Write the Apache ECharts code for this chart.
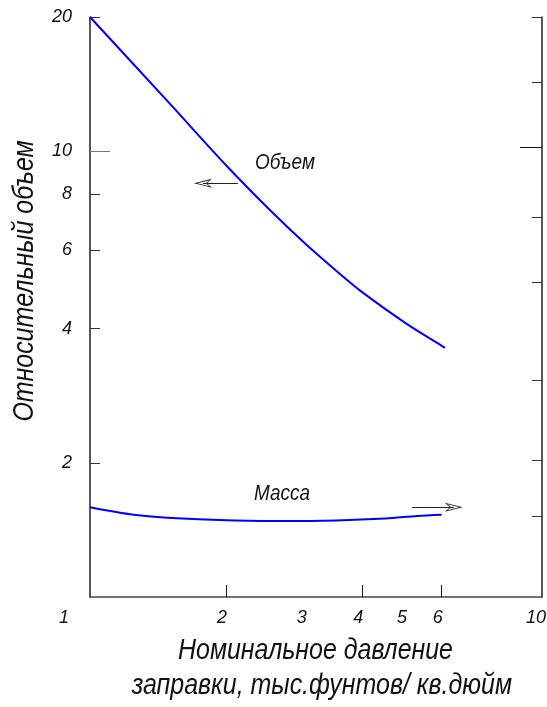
<!DOCTYPE html>
<html><head><meta charset="utf-8">
<script src="https://cdn.jsdelivr.net/npm/echarts@6/dist/echarts.min.js"></script>
<style>html,body{margin:0;padding:0;background:#fff}#chart{width:547px;height:707px}</style>
</head><body><div id="chart"></div>
<script>
// Relative volume and mass of the charge vs nominal fill pressure (log-log)
const pressureVolume = [1, 1.5, 2, 2.5, 3, 3.5, 4, 5, 6, 6.1];
const volume = [20, 12.8, 9.3, 7.38, 6.19, 5.40, 4.83, 4.11, 3.66, 3.62];
const pressureMass = [1, 1.25, 1.6, 2.1, 2.7, 3.5, 4.5, 5.3, 6];
const mass = [1.59, 1.53, 1.50, 1.485, 1.48, 1.485, 1.50, 1.52, 1.53];

const xLabelValues = [1, 2, 3, 4, 5, 6, 10];
const xTickValues = [2, 4, 6];
const leftLabelValues = [2, 4, 6, 8, 10, 20];
const leftShortTicks = [2, 4, 6, 8, 20];
const leftLongTick = [10];
const rightShortTicks = [1.52, 2.03, 3.06, 5.07, 7.1, 14.3, 20];
const rightLongTick = [10.2];

// annotation anchors (data coordinates)
const volumeNote = [2.70, 9.41];
const massNote = [2.66, 1.70];
const volumeArrow = [[2.125, 8.47], [1.778, 8.47]];
const massArrow = [[5.16, 1.59], [6.38, 1.59]];

const SANS = "'Liberation Sans', Arial, sans-serif";
const NARROW_SCALE = 0.86;   // condensed look for the captions
const BLUE = '#0000ff';
// open dart-shaped arrowhead, tip up
const arrowHead = 'path://M0 0 L5 18 L0 13 L-5 18 Z M0 3.5 L-3.3 15.4 L0 11.6 L3.3 15.4 Z';

function pairs(xs, ys) { return xs.map((x, i) => [x, ys[i]]); }

const chart = echarts.init(document.getElementById('chart'), null, { renderer: 'canvas' });

const yBase = { type: 'log', logBase: 10, min: 1, max: 20, splitLine: { show: false } };
const tickFont = { color: '#111', fontStyle: 'italic', fontSize: 18, fontFamily: SANS };

function caption(text, x, y, size, align, vAlign, rotation) {
  return {
    type: 'text', x: x, y: y, rotation: rotation || 0, scaleX: NARROW_SCALE, silent: true,
    style: { text: text, fill: '#111', font: 'italic ' + size + 'px ' + SANS, textAlign: align, textVerticalAlign: vAlign }
  };
}

chart.setOption({
  animation: false,
  backgroundColor: '#fff',
  grid: { left: 90, right: 5, top: 17, bottom: 110, containLabel: false, outerBoundsMode: 'none' },
  xAxis: {
    type: 'log', logBase: 10, min: 1, max: 10,
    axisLine: { onZero: false, lineStyle: { color: '#444', width: 1.5 } },
    axisTick: { inside: true, length: 12, customValues: xTickValues, lineStyle: { color: '#111', width: 1 } },
    axisLabel: Object.assign({}, tickFont, {
      customValues: xLabelValues, margin: 12, padding: [0, 8, 0, 0],
      formatter: v => v === 1 ? '{one|1}' : v === 10 ? '{ten|10}' : String(v),
      rich: {
        one: Object.assign({}, tickFont, { padding: [0, 44, 0, 0] }),
        ten: Object.assign({}, tickFont, { padding: [0, 4, 0, 0] })
      }
    }),
    splitLine: { show: false }
  },
  yAxis: [
    Object.assign({}, yBase, {
      position: 'left',
      axisLine: { onZero: false, lineStyle: { color: '#222', width: 1.5 } },
      axisTick: { inside: true, length: 10, customValues: leftShortTicks, lineStyle: { color: '#333', width: 1 } },
      axisLabel: Object.assign({}, tickFont, { customValues: leftLabelValues, margin: 18, padding: [5, 0, 0, 0] })
    }),
    Object.assign({}, yBase, {
      position: 'right',
      axisLine: { onZero: false, lineStyle: { color: '#222', width: 1.5 } },
      axisTick: { inside: true, length: 10, customValues: rightShortTicks, lineStyle: { color: '#333', width: 1 } },
      axisLabel: { show: false }
    }),
    Object.assign({}, yBase, {
      position: 'left',
      axisLine: { show: false },
      axisTick: { inside: true, length: 20, customValues: leftLongTick, lineStyle: { color: '#777', width: 1 } },
      axisLabel: { show: false }
    }),
    Object.assign({}, yBase, {
      position: 'right',
      axisLine: { show: false },
      axisTick: { inside: true, length: 22, customValues: rightLongTick, lineStyle: { color: '#111', width: 1 } },
      axisLabel: { show: false }
    })
  ],
  series: [
    {
      name: 'Объем', type: 'line', yAxisIndex: 0, showSymbol: false, smooth: 0.3,
      lineStyle: { color: BLUE, width: 2 },
      data: pairs(pressureVolume, volume),
      markLine: {
        silent: true, symbol: ['none', arrowHead], symbolSize: [9, 18],
        lineStyle: { color: '#222', width: 1, type: 'solid' }, label: { show: false },
        data: [[{ coord: volumeArrow[0] }, { coord: volumeArrow[1] }]]
      }
    },
    {
      name: 'Масса', type: 'line', yAxisIndex: 1, showSymbol: false, smooth: 0.3,
      lineStyle: { color: BLUE, width: 2 },
      data: pairs(pressureMass, mass),
      markLine: {
        silent: true, symbol: ['none', arrowHead], symbolSize: [9, 18],
        lineStyle: { color: '#222', width: 1, type: 'solid' }, label: { show: false },
        data: [[{ coord: massArrow[0] }, { coord: massArrow[1] }]]
      }
    }
  ]
});

// captions: axis titles and curve names (curve names anchored in data space)
const volPx = chart.convertToPixel({ xAxisIndex: 0, yAxisIndex: 0 }, volumeNote);
const massPx = chart.convertToPixel({ xAxisIndex: 0, yAxisIndex: 1 }, massNote);
chart.setOption({
  graphic: [
    caption('Относительный объем', 25, 281, 29, 'center', 'middle', Math.PI / 2),
    caption('Номинальное давление', 178, 636, 29, 'left', 'top'),
    caption('заправки, тыс.фунтов/ кв.дюйм', 512, 671, 29, 'right', 'top'),
    caption('Объем', volPx[0], volPx[1], 22, 'center', 'middle'),
    caption('Масса', massPx[0], massPx[1], 22, 'center', 'middle')
  ]
});
</script>
</body></html>
